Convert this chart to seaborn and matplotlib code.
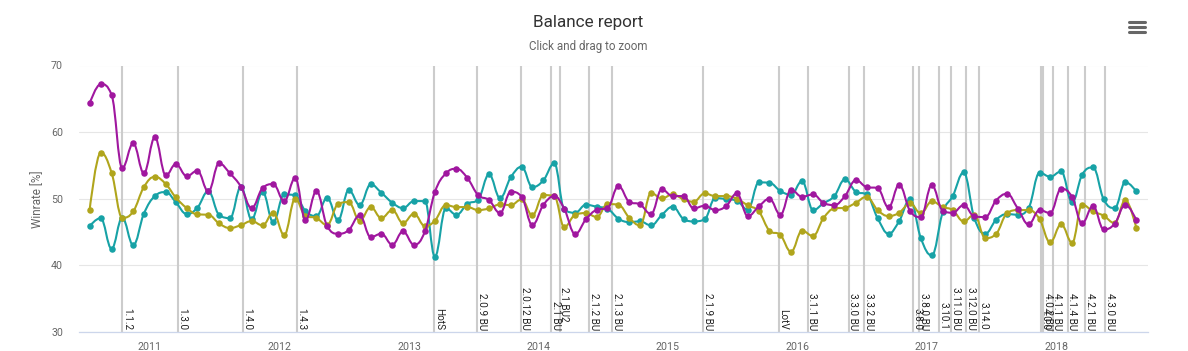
import numpy as np
import pandas as pd
import matplotlib
matplotlib.use("Agg")
import matplotlib.pyplot as plt
import matplotlib.dates as mdates
import matplotlib.transforms as mtransforms
from matplotlib.path import Path
from matplotlib.patches import PathPatch
from matplotlib.lines import Line2D
import seaborn as sns

# ---------------- data ----------------
months = pd.date_range("2010-07-01", "2018-08-01", freq="MS") + pd.Timedelta(days=14)

tvz = [64.3, 67.2, 65.6, 54.6, 58.3, 53.85, 59.2, 53.5, 55.2, 53.4,
       54.2, 51.1, 55.3, 53.8, 51.8, 48.6, 51.6, 52.2, 49.65, 53.1,
       46.8, 51.15, 45.9, 44.75, 45.3, 47.5, 44.25, 44.75, 43.1, 45.1,
       43.1, 45.1, 51.0, 53.8, 54.5, 53.1, 50.55, 49.8, 47.85, 51.05,
       50.3, 46.05, 49.05, 50.4, 48.5, 44.7, 46.9, 48.35, 48.6, 51.9,
       49.5, 49.15, 47.7, 51.4, 50.4, 50.4, 48.55, 48.95, 48.3, 48.9,
       50.8, 47.4, 48.85, 50.0, 47.6, 51.35, 50.3, 50.65, 49.4, 49.05,
       50.4, 52.8, 51.75, 51.6, 48.7, 52.1, 48.15, 47.25, 52.05, 48.2,
       47.9, 49.05, 47.35, 47.25, 49.7, 50.75, 48.5, 46.15, 48.3, 47.85,
       51.5, 50.25, 46.3, 48.9, 45.4, 46.25, 49.1, 46.8]

pvt = [48.3, 56.9, 53.9, 47.15, 48.1, 51.75, 53.3, 52.2, 50.2, 48.6,
       47.65, 47.6, 46.3, 45.6, 46.05, 46.65, 46.0, 47.9, 44.55, 50.0,
       47.4, 47.1, 46.05, 49.2, 49.5, 46.7, 48.75, 47.1, 48.3, 46.35,
       47.75, 45.9, 46.7, 49.05, 48.75, 48.75, 48.3, 48.55, 49.15, 49.05,
       49.9, 47.5, 50.55, 50.4, 45.75, 47.6, 47.85, 47.25, 49.2, 49.1,
       47.1, 46.0, 50.85, 50.05, 50.65, 49.9, 49.55, 50.8, 50.4, 50.4,
       50.0, 49.0, 48.1, 45.2, 44.55, 42.05, 45.2, 44.4, 47.05, 48.55,
       48.65, 49.4, 50.3, 48.3, 47.4, 47.9, 49.3, 47.8, 49.6, 48.75,
       48.3, 46.6, 47.6, 44.1, 44.7, 47.8, 48.3, 48.3, 46.95, 43.45,
       46.15, 43.4, 49.1, 48.1, 47.45, 46.35, 49.8, 45.6]

zvp = [45.9, 47.1, 42.5, 47.15, 43.05, 47.75, 50.4, 51.0, 49.5, 47.7,
       48.65, 51.15, 47.6, 47.1, 51.8, 46.9, 51.05, 46.5, 50.65, 50.5,
       48.15, 47.4, 50.15, 46.8, 51.3, 49.05, 52.15, 50.9, 49.4, 48.6,
       49.65, 49.65, 41.3, 48.55, 47.6, 49.25, 49.85, 53.65, 50.1, 53.2,
       54.8, 51.75, 52.75, 55.3, 48.4, 47.9, 49.1, 48.8, 48.5, 47.0,
       46.5, 46.6, 46.0, 47.55, 48.8, 46.95, 46.6, 46.9, 50.1, 49.95,
       49.7, 48.35, 52.45, 52.4, 51.15, 50.6, 52.65, 48.3, 49.3, 50.4,
       52.9, 51.05, 50.65, 47.1, 44.75, 46.65, 49.9, 44.1, 41.5, 48.0,
       50.4, 53.95, 47.1, 44.75, 46.8, 47.7, 47.6, 48.6, 53.9, 53.3,
       54.1, 49.45, 53.6, 54.7, 49.9, 48.6, 52.5, 51.1]

series_names = ["ZvP", "PvT", "TvZ"]
series_values = [zvp, pvt, tvz]
series_colors = ["#17a2a6", "#b0a51c", "#a0179f"]

patch_labels = ["1.1.2", "1.3.0", "1.4.0", "1.4.3", "HotS", "2.0.9 BU", "2.0.12 BU",
                "2.1 BU", "2.1 BU2", "2.1.2 BU", "2.1.3 BU", "2.1.9 BU", "LotV",
                "3.1.1 BU", "3.3.0 BU", "3.3.2 BU", "3.8.0", "3.8.0 BU", "3.10.1",
                "3.11.0 BU", "3.12.0 BU", "3.14.0", "4.0.0", "4.0.2 BU", "4.1.1 BU",
                "4.1.4 BU", "4.2.1 BU", "4.3.0 BU"]
patch_dates = ["2010-10-15", "2011-03-21", "2011-09-21", "2012-02-20", "2013-03-13",
               "2013-07-12", "2013-11-13", "2014-02-06", "2014-03-03", "2014-05-24",
               "2014-07-28", "2015-04-11", "2015-11-11", "2016-01-31", "2016-05-26",
               "2016-07-08", "2016-11-24", "2016-12-10", "2017-02-05", "2017-03-11",
               "2017-04-22", "2017-05-29", "2017-11-19", "2017-11-25", "2017-12-22",
               "2018-02-02", "2018-03-24", "2018-05-19"]

df = pd.concat([pd.DataFrame({"date": months, "winrate": v, "matchup": n})
                for n, v in zip(series_names, series_values)], ignore_index=True)

# ---------------- figure ----------------
sns.set_theme(style="white")
plt.rcParams["font.family"] = ["Roboto", "DejaVu Sans"]

W, H = 1188, 351
fig = plt.figure(figsize=(W / 100, H / 100), dpi=100)
L, R, T, B = 79, 1148, 65.5, 332
ax = fig.add_axes([L / W, 1 - B / H, (R - L) / W, (B - T) / H])

ax.set_ylim(30, 70)
ax.set_xlim(pd.Timestamp("2010-06-15"), pd.Timestamp("2018-09-17"))
ax.set_yticks([30, 40, 50, 60, 70])
ax.yaxis.grid(True, color="#e6e6e6", lw=0.8)
ax.xaxis.grid(False)
ax.set_axisbelow(True)
for s in ["top", "right", "left"]:
    ax.spines[s].set_visible(False)
ax.spines["bottom"].set_color("#ccd6eb")
ax.spines["bottom"].set_linewidth(0.9)
ax.spines["bottom"].set_zorder(5)

ax.xaxis.set_major_locator(mdates.YearLocator())
ax.xaxis.set_major_formatter(mdates.DateFormatter("%Y"))
ax.tick_params(axis="x", direction="out", length=7.2, width=0.72, color="#ccd6eb",
               labelsize=7.7, labelcolor="#666666", pad=0)
ax.tick_params(axis="y", length=0, labelsize=7.7, labelcolor="#666666", pad=11.5)

# patch lines
line_trans = mtransforms.blended_transform_factory(ax.transData, ax.transAxes)
label_trans = mtransforms.offset_copy(line_trans, fig=fig, x=1.5, y=0, units="dots")
for lab, d in zip(patch_labels, patch_dates):
    dt = pd.Timestamp(d)
    ax.axvline(dt, color="#cccccc", lw=1.5, zorder=1.5)
    yfrac = 0.0375 if lab == "2.1 BU2" else 0.0075
    ax.text(mdates.date2num(dt), yfrac, lab, transform=label_trans, rotation=-90,
            rotation_mode="anchor", ha="right", va="baseline", fontsize=7.2,
            color="#222222", zorder=6)


def hc_spline(xs, ys, smoothing=1.5):
    n = len(xs)
    lc = [(x, y) for x, y in zip(xs, ys)]
    rc = list(lc)
    denom = smoothing + 1
    for i in range(1, n - 1):
        px, py = xs[i], ys[i]
        lx, ly = xs[i - 1], ys[i - 1]
        nx, ny = xs[i + 1], ys[i + 1]
        lcx = (smoothing * px + lx) / denom
        lcy = (smoothing * py + ly) / denom
        rcx = (smoothing * px + nx) / denom
        rcy = (smoothing * py + ny) / denom
        corr = 0.0
        if rcx != lcx:
            corr = ((rcy - lcy) * (rcx - px)) / (rcx - lcx) + py - rcy
        lcy += corr
        rcy += corr
        if lcy > ly and lcy > py:
            lcy = max(ly, py); rcy = 2 * py - lcy
        elif lcy < ly and lcy < py:
            lcy = min(ly, py); rcy = 2 * py - lcy
        if rcy > ny and rcy > py:
            rcy = max(ny, py); lcy = 2 * py - rcy
        elif rcy < ny and rcy < py:
            rcy = min(ny, py); lcy = 2 * py - rcy
        lc[i] = (lcx, lcy)
        rc[i] = (rcx, rcy)
    verts = [(xs[0], ys[0])]
    codes = [Path.MOVETO]
    for i in range(1, n):
        verts += [rc[i - 1], lc[i], (xs[i], ys[i])]
        codes += [Path.CURVE4] * 3
    return Path(verts, codes)


for k, (name, color) in enumerate(zip(series_names, series_colors)):
    sub = df[df["matchup"] == name]
    xs = list(mdates.date2num(sub["date"]))
    ys = list(sub["winrate"])
    patch = PathPatch(hc_spline(xs, ys), facecolor="none", edgecolor=color, lw=1.5,
                      transform=ax.transData, zorder=3 + 2 * k, capstyle="round",
                      joinstyle="round")
    ax.add_patch(patch)
    sns.scatterplot(data=sub, x="date", y="winrate", color=color, s=22, linewidth=0,
                    ax=ax, zorder=4 + 2 * k, legend=False)

ax.set_xlabel("")
ax.set_ylabel("Winrate [%]", fontsize=8.5, color="#666666", va="center")
ax.yaxis.set_label_coords((38 - L) / (R - L), 0.5)

# titles
fig.text(588 / W, 1 - 22.3 / H, "Balance report", ha="center", va="center",
         fontsize=12.3, color="#333333")
fig.text(588 / W, 1 - 46.3 / H, "Click and drag to zoom", ha="center", va="center",
         fontsize=8.4, color="#666666")

# menu icon
for yy in (21.5, 26.7, 32.0):
    fig.add_artist(Line2D([1129 / W, 1145 / W], [1 - yy / H, 1 - yy / H],
                          transform=fig.transFigure, lw=2.2, color="#666666",
                          solid_capstyle="round"))

fig.savefig("out.png", dpi=100)
